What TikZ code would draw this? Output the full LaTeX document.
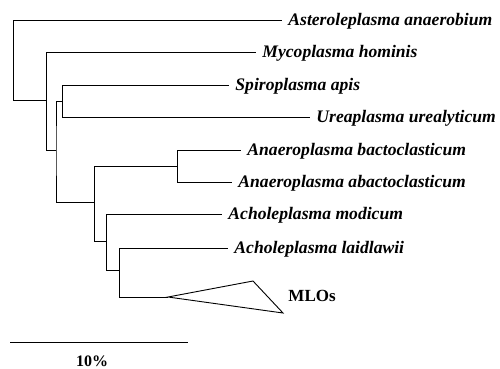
\documentclass[tikz,border=0pt]{standalone}
\usepackage{fontspec}
\setmainfont{Liberation Serif}
\begin{document}
\begin{tikzpicture}[x=1pt,y=-1pt,line width=0.9pt,
  leaf/.style={anchor=base west,inner xsep=6pt,inner ysep=0pt,font=\bfseries\itshape\fontsize{17.6}{20}\selectfont},
  branch/.style={draw=black,line width=0.9pt}]
\useasboundingbox (0,0) rectangle (500,368);
% leaf labels (positioned at line end, baseline 5px below line)
\node[leaf] (aster) at (282,25) {Asteroleplasma anaerobium};
\node[leaf] (myco)  at (256,57) {Mycoplasma hominis};
\node[leaf] (spiro) at (229,90) {Spiroplasma apis};
\node[leaf] (urea)  at (310,122) {Ureaplasma urealyticum};
\node[leaf] (abact) at (241,155) {Anaeroplasma bactoclasticum};
\node[leaf] (aabact) at (232,187) {Anaeroplasma abactoclasticum};
\node[leaf] (amod)  at (222,219) {Acholeplasma modicum};
\node[leaf] (alaid) at (228,253) {Acholeplasma laidlawii};
\node[anchor=base west,inner xsep=0pt,inner ysep=0pt,font=\bfseries\fontsize{17}{20}\selectfont] (mlos) at (288,301) {MLOs};
% internal nodes
\coordinate (r)  at (13,100);
\coordinate (b)  at (46,100);
\coordinate (bb) at (46,150);
\coordinate (c)  at (56,150);
\coordinate (cd) at (56,101);
\coordinate (d)  at (62,101);
\coordinate (ce) at (56,202);
\coordinate (e)  at (94,202);
\coordinate (ef) at (94,166);
\coordinate (f)  at (177,166);
\coordinate (eg) at (94,241);
\coordinate (g)  at (106,241);
\coordinate (gh) at (106,270);
\coordinate (h)  at (119,270);
\coordinate (t1) at (168,297);
\coordinate (t2) at (253,281);
\coordinate (t3) at (283,313);
% branches
\draw[branch] (r |- 0,20) -- (r) -- (b);
\draw[branch] (r |- 0,20) -- (0,20 -| aster.west);
\draw[branch] (b |- 0,52) -- (bb) -- (c);
\draw[branch] (b |- 0,52) -- (0,52 -| myco.west);
\draw[branch] (cd) -- (c) -- (ce) -- (e);
\draw[branch] (cd) -- (d);
\draw[branch] (d |- 0,85) -- (d |- 0,117);
\draw[branch] (d |- 0,85) -- (0,85 -| spiro.west);
\draw[branch] (d |- 0,117) -- (0,117 -| urea.west);
\draw[branch] (ef) -- (eg) -- (g);
\draw[branch] (ef) -- (f);
\draw[branch] (f |- 0,150) -- (f |- 0,182);
\draw[branch] (f |- 0,150) -- (0,150 -| abact.west);
\draw[branch] (f |- 0,182) -- (0,182 -| aabact.west);
\draw[branch] (g |- 0,214) -- (gh) -- (h);
\draw[branch] (g |- 0,214) -- (0,214 -| amod.west);
\draw[branch] (h |- 0,248) -- (h |- 0,297) -- (t1);
\draw[branch] (h |- 0,248) -- (0,248 -| alaid.west);
\draw[branch,line join=miter] (t1) -- (t2) -- (t3) -- cycle;
% scale bar
\coordinate (s1) at (10,342);
\coordinate (s2) at (188,342);
\draw[branch] (s1) -- (s2);
\node[anchor=base,inner sep=0pt,font=\bfseries\fontsize{16}{18}\selectfont] (scale) at (92,366) {10\%};
\end{tikzpicture}
\end{document}
